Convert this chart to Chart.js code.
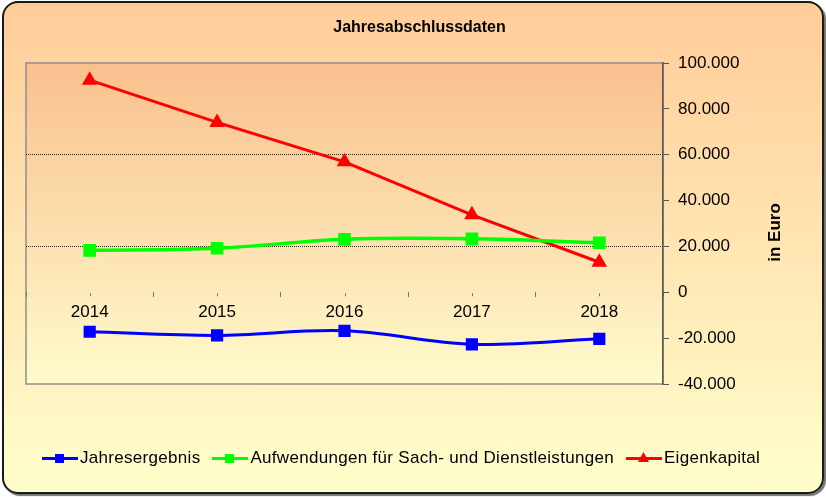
<!DOCTYPE html>
<html lang="de">
<head>
<meta charset="utf-8">
<title>Jahresabschlussdaten</title>
<script src="https://cdn.jsdelivr.net/npm/chart.js@4.4.1/dist/chart.umd.min.js"></script>
<style>
  html, body { margin: 0; padding: 0; background: #fff; }
  #rahmen {
    position: absolute; left: 2px; top: 1px; width: 818px; height: 489px;
    border: 2px solid #1a1a1a; border-radius: 16px;
    background: linear-gradient(#FFCC99, #FFFFCC);
    box-shadow: 2px 2px 1px rgba(0, 0, 0, .55);
  }
  #grafik { position: absolute; left: 0; top: 0; }
  #legende {
    position: absolute; left: 42px; top: 448px; height: 20px;
    display: flex; align-items: center;
    font: 17px "Liberation Sans", Arial, sans-serif; color: #000;
    letter-spacing: 0.3px;
  }
  .eintrag { display: flex; align-items: center; margin-right: 12px; }
  .symbol { position: relative; width: 36px; height: 20px; margin-right: 2px; }
  .linie { position: absolute; left: 0; top: 8.5px; width: 36px; height: 3px; }
  .marke { position: absolute; left: 13px; top: 5.5px; width: 9px; height: 9px; }
  .dreieck { left: 12px; top: 4px; width: 11px; height: 10px; clip-path: polygon(50% 0, 100% 100%, 0 100%); }
</style>
</head>
<body>
<div id="rahmen"></div>
<canvas id="grafik" width="826" height="497"></canvas>
<div id="legende"></div>

<script>
/* DATEN */
const jahre = ["2014", "2015", "2016", "2017", "2018"]
const jahresergebnis = [-17200, -18800, -16800, -22700, -20300]
const aufwendungen = [18300, 19200, 23100, 23300, 21600]
const eigenkapital = [92500, 74100, 56900, 33800, 13100]
const gitterWerte = [60000, 20000]

const schrift = '"Liberation Sans", Arial, sans-serif'

/* FUNKTIONEN */
function zahlFormat (v) {
    const s = String(Math.abs(v)).replace(/\B(?=(\d{3})+(?!\d))/g, ".")
    return (v < 0 ? "-" : "") + s
}

// Hintergrund der Zeichenfläche
const flaeche = {
    id: "flaeche",
    beforeDraw(chart) {
        const {ctx, chartArea: a} = chart
        const g = ctx.createLinearGradient(0, a.top, 0, a.bottom)
        g.addColorStop(0, "#F9C08E")
        g.addColorStop(1, "#FFFBCC")
        ctx.save()
        ctx.fillStyle = g
        ctx.fillRect(a.left, a.top, a.right - a.left, a.bottom - a.top)
        ctx.strokeStyle = "#8f8f8f"
        ctx.lineWidth = 1.5
        ctx.strokeRect(a.left, a.top, a.right - a.left, a.bottom - a.top)
        ctx.restore()
    }
}

// kleine Striche an den Jahren + Achsentitel
const extras = {
    id: "extras",
    afterDraw(chart) {
        const {ctx} = chart
        const x = chart.scales.x
        const y = chart.scales.y
        const y0 = y.getPixelForValue(0)
        ctx.save()
        ctx.strokeStyle = "#777"
        ctx.lineWidth = 1
        jahre.forEach((j, i) => {
            const px = Math.round(x.getPixelForValue(i)) + 0.5
            ctx.beginPath()
            ctx.moveTo(px, y0 + 1)
            ctx.lineTo(px, y0 + 4)
            ctx.stroke()
        })
        ctx.translate(y.right - 38, (chart.chartArea.top + chart.chartArea.bottom) / 2 + 9)
        ctx.rotate(-Math.PI / 2)
        ctx.fillStyle = "#000"
        ctx.font = "bold 17px " + schrift
        ctx.textAlign = "center"
        ctx.textBaseline = "middle"
        ctx.fillText("in Euro", 0, 0)
        ctx.restore()
    }
}

const datasets = [
    {
        label: "Jahresergebnis", data: jahresergebnis,
        borderColor: "#0000FF", backgroundColor: "#0000FF",
        borderWidth: 3, pointStyle: "rect", pointRadius: 6.5, tension: 0.35
    },
    {
        label: "Aufwendungen für Sach- und Dienstleistungen", data: aufwendungen,
        borderColor: "#00FF00", backgroundColor: "#00FF00",
        borderWidth: 3.5, pointStyle: "rect", pointRadius: 6.5, tension: 0.35
    },
    {
        label: "Eigenkapital", data: eigenkapital,
        borderColor: "#FF0000", backgroundColor: "#FF0000",
        borderWidth: 3, pointStyle: "triangle", pointRadius: 6, tension: 0
    }
]

const config = {
    type: "line",
    data: { labels: jahre, datasets },
    plugins: [flaeche, extras],
    options: {
        responsive: false,
        animation: false,
        layout: { padding: { left: 26, right: 13, top: 0, bottom: 113 } },
        plugins: {
            legend: { display: false },
            tooltip: { enabled: false },
            title: {
                display: true, text: "Jahresabschlussdaten", color: "#000",
                font: { family: schrift, size: 16, weight: "bold" },
                padding: { top: 18.4, bottom: 25.4 }
            }
        },
        scales: {
            x: {
                type: "category",
                position: { y: 0 },
                offset: true,
                grid: { offset: true, drawOnChartArea: false, tickLength: 5, tickColor: "#777" },
                border: { display: false },
                ticks: { color: "#000", font: { family: schrift, size: 17 }, padding: 5, maxRotation: 0 }
            },
            y: {
                position: "right",
                min: -40000, max: 100000,
                afterFit: (s) => { s.width = 150 },
                ticks: { stepSize: 20000, color: "#000", padding: 9, font: { family: schrift, size: 17 }, callback: zahlFormat },
                grid: {
                    color: (c) => gitterWerte.includes(c.tick && c.tick.value) ? "#2a2a2a" : "transparent",
                    tickColor: "#555", tickLength: 6, lineWidth: 1
                },
                border: { display: true, color: "#555", width: 1.5, dash: [1, 1] }
            }
        }
    }
}

const myChart = new Chart(document.querySelector("#grafik"), config)

/* LEGENDE */
const legende = document.querySelector("#legende")
myChart.data.datasets.forEach((ds) => {
    const marke = ds.pointStyle == "triangle" ? "marke dreieck" : "marke"
    legende.innerHTML +=
        '<div class="eintrag"><span class="symbol">' +
        '<span class="linie" style="background:' + ds.borderColor + '"></span>' +
        '<span class="' + marke + '" style="background:' + ds.borderColor + '"></span>' +
        '</span>' + ds.label + '</div>'
})
</script>
</body>
</html>
